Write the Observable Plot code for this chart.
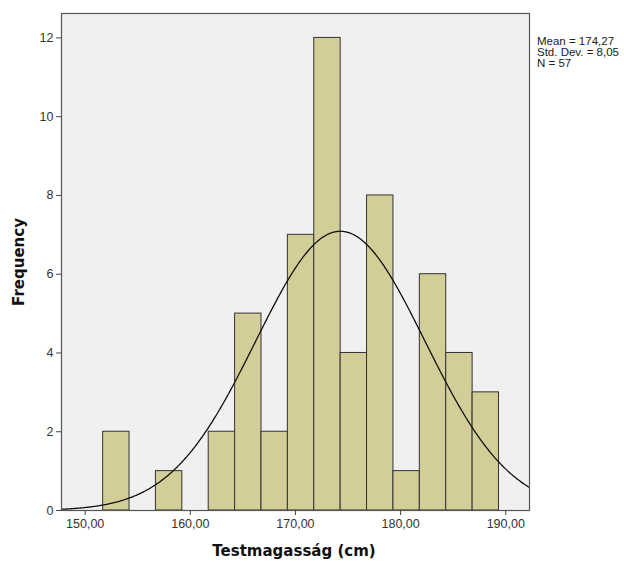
<!DOCTYPE html>
<html>
<head>
<meta charset="utf-8">
<script src="https://cdn.jsdelivr.net/npm/d3@7"></script>
<script src="https://cdn.jsdelivr.net/npm/@observablehq/plot@0.6"></script>
<style>
  html, body { margin: 0; padding: 0; background: #fff; }
  #chart { position: relative; width: 624px; height: 563px; }
</style>
</head>
<body>
<div id="chart"></div>
<script>
// Histogram bins (lower edge, cm) and counts
const binStart = [151.71,154.22,156.73,159.24,161.75,164.26,166.77,169.28,171.79,174.30,176.81,179.32,181.83,184.34,186.85];
const binWidth = 2.51;
const counts   = [2,0,1,0,2,5,2,7,12,4,8,1,6,4,3];
// Summary statistics shown in the legend
const meanVal = 174.27;
const sdVal = 8.05;
const nVal = 57;
const statLines = ["Mean = 174,27", "Std. Dev. = 8,05", "N = 57"];
const xTicks = [150,160,170,180,190];
const yTicks = [0,2,4,6,8,10,12];

const bins = binStart.map((s,i) => ({x1: s, x2: s + binWidth, y: counts[i]}))
  .filter(d => d.y > 0);

// Fitted normal curve (from mean, SD, N and bin width)
const xDomain = [147.75, 192.26];
const curve = d3.range(xDomain[0], xDomain[1] + 0.001, 0.1).map(x => ({
  x,
  y: nVal * binWidth * Math.exp(-0.5 * ((x - meanVal) / sdVal) ** 2) / (sdVal * Math.sqrt(2 * Math.PI))
}));

const fmt = d => d.toFixed(2).replace(".", ",");

const plot = Plot.plot({
  width: 624,
  height: 563,
  marginLeft: 61,
  marginRight: 95,
  marginTop: 13,
  marginBottom: 53,
  style: {fontFamily: "Liberation Sans, Arial, sans-serif", fontSize: "12px", background: "#fff", color: "#333"},
  x: {domain: xDomain, ticks: xTicks, tickFormat: fmt, tickSize: 5, tickPadding: 4, label: null},
  y: {domain: [0, 12.62], ticks: yTicks, tickSize: 5, tickPadding: 3, label: null},
  marks: [
    Plot.frame({fill: "#f0f0f0", stroke: "none"}),
    Plot.rectY(bins, {x1: "x1", x2: "x2", y: "y", fill: "#d3ce98", stroke: "#333", strokeWidth: 1}),
    Plot.line(curve, {x: "x", y: "y", stroke: "#111", strokeWidth: 1.3, curve: "linear"}),
    Plot.frame({stroke: "#555", strokeWidth: 1.2}),
    Plot.axisX({ticks: xTicks, tickFormat: fmt, tickSize: 5, tickPadding: 4, label: null, stroke: "#444", fontSize: 12.5}),
    Plot.axisY({ticks: yTicks, tickSize: 5, tickPadding: 3, label: null, stroke: "#444", fontSize: 12.5})
  ]
});

const chart = document.getElementById("chart");
chart.appendChild(plot);

// Axis titles and stats text as real SVG text
const svg = d3.select(plot);
svg.append("text")
  .attr("x", 294).attr("y", 556)
  .attr("text-anchor", "middle")
  .attr("font-family", "DejaVu Sans, sans-serif")
  .attr("font-weight", "bold").attr("font-size", "15px").attr("fill", "#111")
  .text("Testmagasság (cm)");
svg.append("text")
  .attr("transform", "translate(24,262) rotate(-90)")
  .attr("text-anchor", "middle")
  .attr("font-family", "DejaVu Sans, sans-serif")
  .attr("font-weight", "bold").attr("font-size", "15px").attr("fill", "#111")
  .text("Frequency");
const st = svg.append("text")
  .attr("text-anchor", "start")
  .attr("font-family", "Liberation Sans, Arial, sans-serif")
  .attr("font-size", "11.5px").attr("fill", "#222");
statLines.forEach((s, i) => {
  st.append("tspan").attr("x", 537).attr("y", 45 + i * 11).attr("text-anchor", "start").text(s);
});
</script>
</body>
</html>
